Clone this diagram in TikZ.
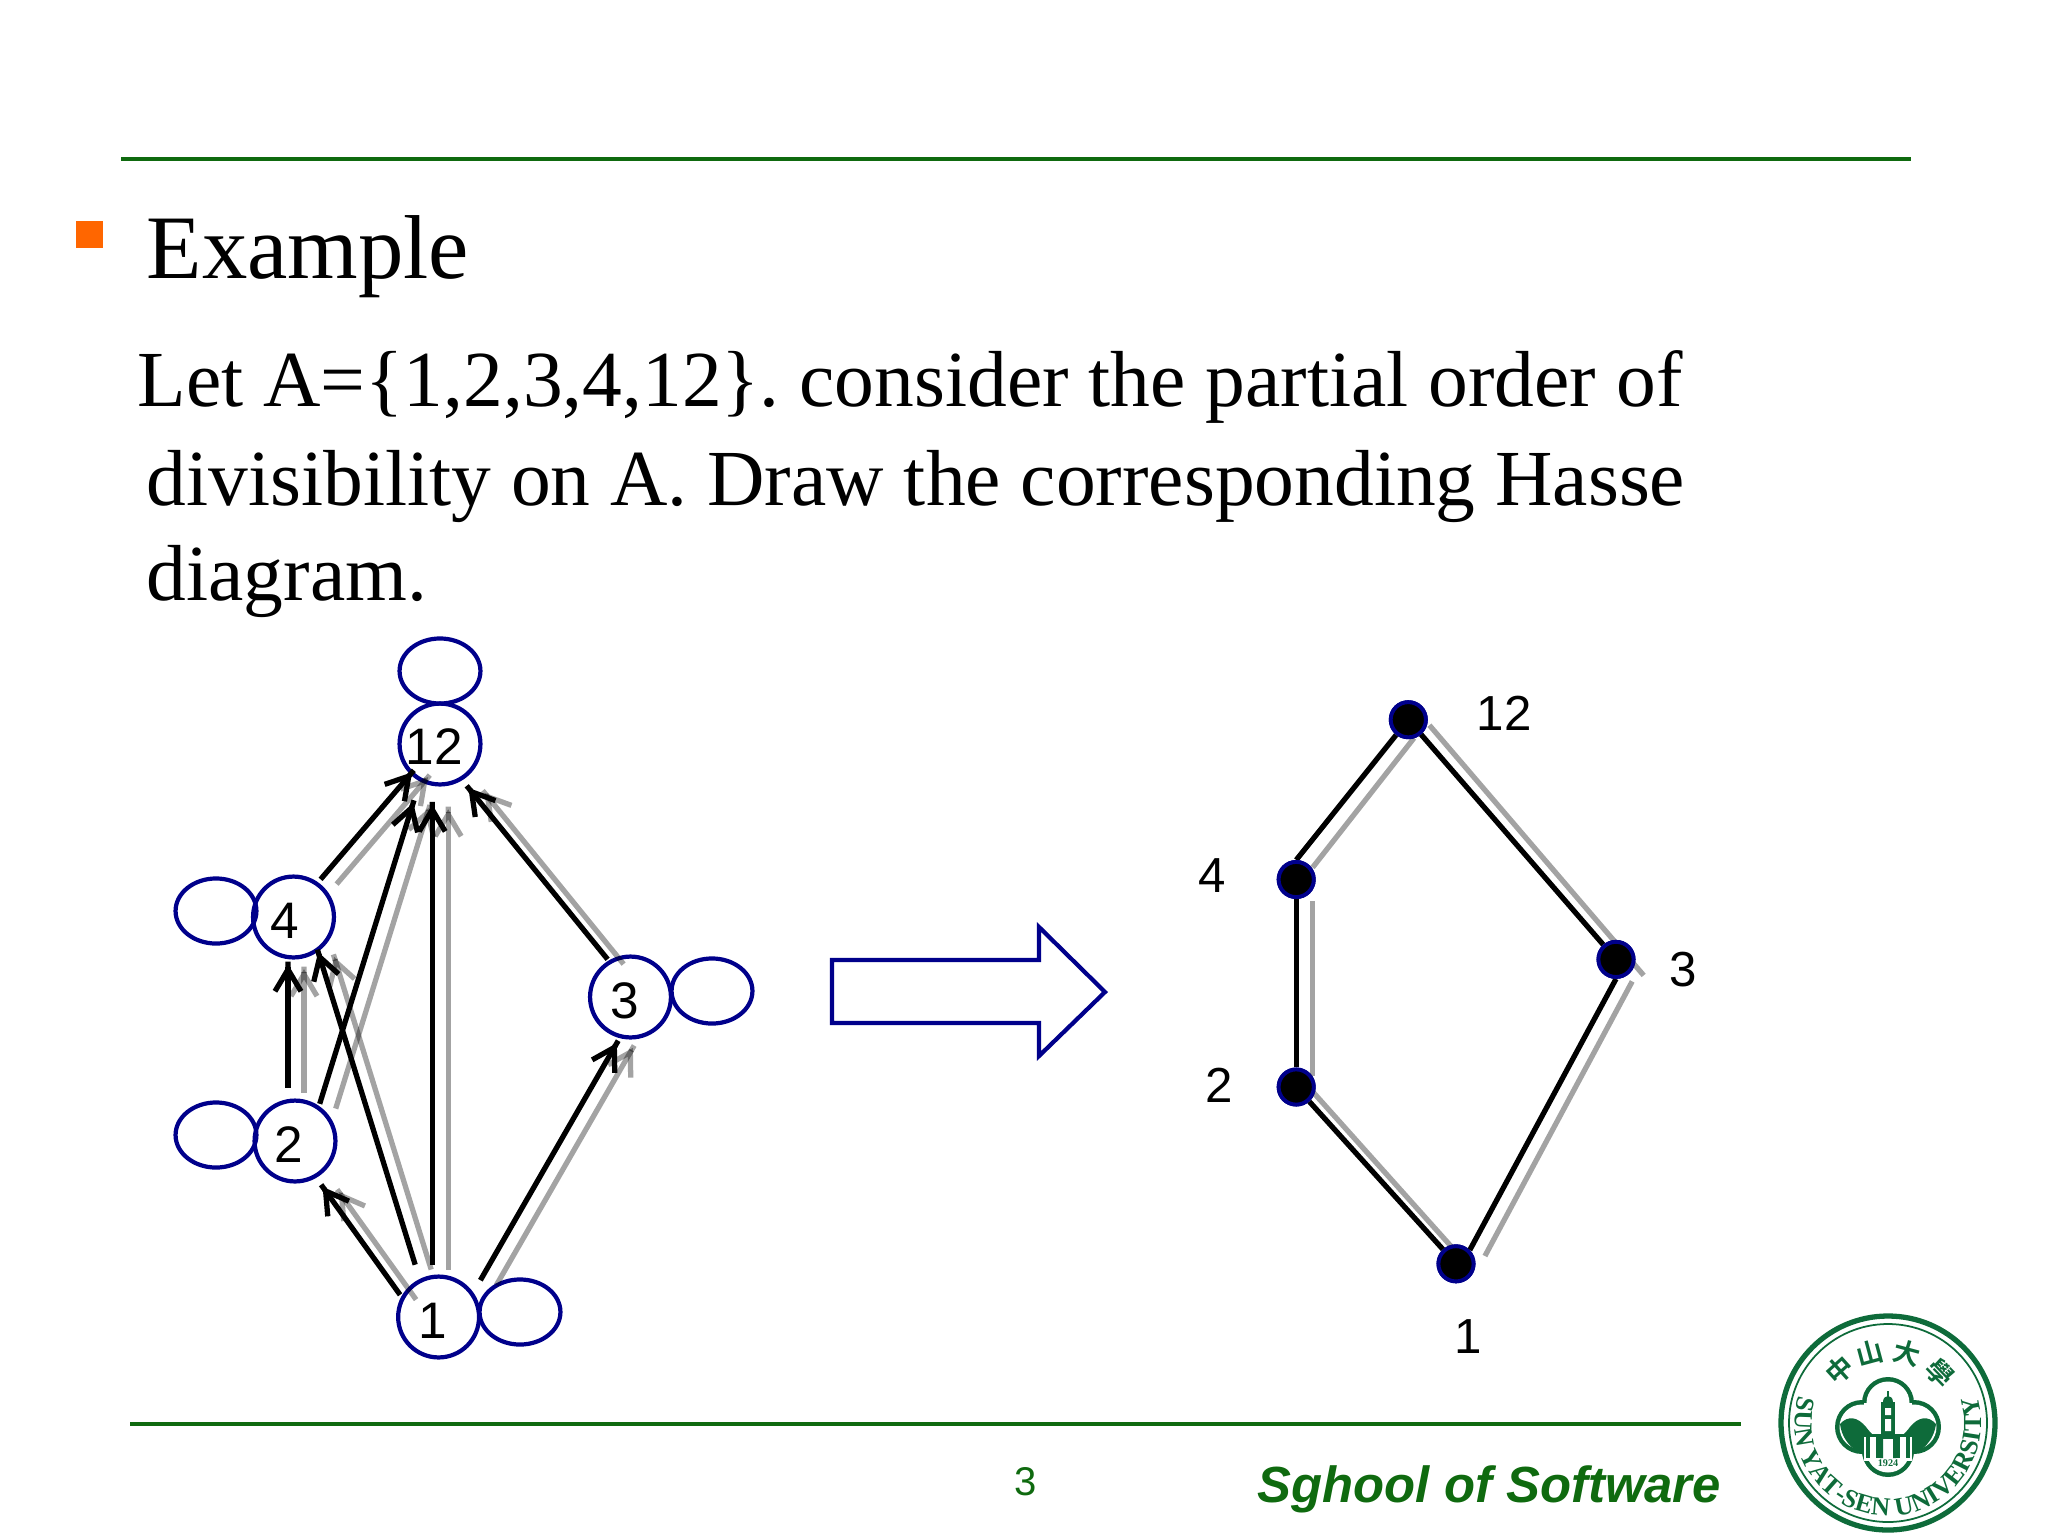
\documentclass[tikz,border=0pt]{standalone}
\usepackage{fontspec}
\setmainfont{Liberation Serif}
\setsansfont{Liberation Sans}
\newfontfamily\cjkseal{Noto Sans CJK SC}[BoldFont={* Bold}]
\usetikzlibrary{arrows.meta, decorations.text, shapes.geometric}
\definecolor{rulegreen}{HTML}{0F6A0F}
\definecolor{sealgreen}{HTML}{0E6B3A}
\definecolor{navyline}{HTML}{00008B}
\definecolor{bulletorange}{HTML}{FF6600}
\tikzset{
    titletext/.style={anchor=base west, inner sep=0pt, font=\fontsize{25.8pt}{30pt}\selectfont},
    slidetext/.style={anchor=base west, inner sep=0pt, font=\fontsize{22.6pt}{27pt}\selectfont\frenchspacing},
    numtext/.style={inner sep=0pt, font=\sffamily\fontsize{14.6pt}{17pt}\selectfont},
    hassetext/.style={inner sep=0pt, font=\sffamily\fontsize{14pt}{16pt}\selectfont},
    hassecircle/.style={draw=navyline, line width=1.2pt, circle, minimum size=23pt, inner sep=0pt},
    loopcircle/.style={draw=navyline, line width=1.2pt, ellipse, minimum width=23pt, minimum height=18.5pt, inner sep=0pt},
    vtip/.style={-{Straight Barb[length=6.2pt,width=7.4pt]Butt Cap}},
    blackarc/.style={vtip, black, line width=1.5pt},
    grayarc/.style={vtip, black, opacity=0.36, line width=1.5pt},
    blackedge/.style={black, line width=1.5pt},
    grayedge/.style={black, opacity=0.36, line width=1.5pt},
    hassedot/.style={circle, fill=black, draw=navyline, line width=1.1pt, minimum size=10pt, inner sep=0pt},
}
\begin{document}
\begin{tikzpicture}[x=0.01cm, y=-0.01cm]
    \useasboundingbox (0,0) rectangle (2048,1536);

    % --- Slide frame ---
    \draw[rulegreen, line width=1.2pt] (121,159) -- (1911,159);
    \draw[rulegreen, line width=1.2pt] (130,1424) -- (1741,1424);
    \fill[bulletorange] (76,221) rectangle (103,248);

    % --- Text ---
    \node[titletext] (title) at (146,278) {Example};
    \node[slidetext] (lineA) at (137,406) {Let A=\{1,2,3,4,12\}. consider the partial order of};
    \node[slidetext] (lineB) at (146,505) {divisibility on A. Draw the corresponding Hasse};
    \node[slidetext] (lineC) at (146,600) {diagram.};

    % --- Digraph: vertices with their loops ---
    \node[hassecircle] (n12) at (440,744) {};
    \node[hassecircle] (n4) at (293.5,917) {};
    \node[hassecircle] (n2) at (295,1141) {};
    \node[hassecircle] (n3) at (630.5,997) {};
    \node[hassecircle] (n1) at (438.6,1317) {};
    \node[loopcircle] (loop12) at (440,671) {};
    \node[loopcircle] (loop4) at (216,911) {};
    \node[loopcircle] (loop2) at (216,1135) {};
    \node[loopcircle] (loop3) at (712,991) {};
    \node[loopcircle] (loop1) at (520,1312) {};

    \node[numtext] (t12) at (434.5,747) {12};
    \node[numtext] (t4) at (285,921) {4};
    \node[numtext] (t2) at (289,1145) {2};
    \node[numtext] (t3) at (625,1001) {3};
    \node[numtext] (t1) at (433,1321) {1};

    % Free ends of the arcs
    \coordinate (a12s) at (400.1,1294.8);  \coordinate (a12e) at (321.1,1184.7);
    \coordinate (a14s) at (415.2,1264.7);  \coordinate (a14e) at (317.4,949.6);
    \coordinate (a1Ts) at (432.2,1264.7);  \coordinate (a1Te) at (432.2,801.8);
    \coordinate (a13s) at (480.4,1280.2);  \coordinate (a13e) at (618.2,1040.7);
    \coordinate (a24s) at (288,1087.8);    \coordinate (a24e) at (288,961.7);
    \coordinate (a2Ts) at (319.7,1103.8);  \coordinate (a2Te) at (414,800.3);
    \coordinate (a4Ts) at (320.6,879.3);   \coordinate (a4Te) at (413.8,770.3);
    \coordinate (a3Ts) at (607.6,959.3);   \coordinate (a3Te) at (466.7,785.8);

    % Shadows first, the black arcs lie on top of them
    \foreach \arc in {a12,a14,a1T,a13,a24,a2T,a4T,a3T}
        \draw[grayarc] ([shift={(16,4.8)}]\arc s) -- ([shift={(16,4.8)}]\arc e);
    \foreach \arc in {a12,a14,a1T,a13,a24,a2T,a4T,a3T}
        \draw[blackarc] (\arc s) -- (\arc e);

    % --- Block arrow ---
    \draw[navyline, line width=1.2pt, line join=miter] (832,960) -- (1039,960) -- (1039,927) -- (1105,992) -- (1039,1056) -- (1039,1023) -- (832,1023) -- cycle;

    % --- Hasse diagram ---
    \node[hassedot] (d12) at (1408.3,719.7) {};
    \node[hassedot] (d4) at (1296.2,879.5) {};
    \node[hassedot] (d2) at (1296.2,1087) {};
    \node[hassedot] (d1) at (1456,1263.8) {};
    \node[hassedot] (d3) at (1616,959.4) {};

    \coordinate (g1a) at (1414,738);       \coordinate (g1b) at (1312.6,867.5);
    \coordinate (g2a) at (1429.4,725.2);   \coordinate (g2b) at (1643.7,975.4);
    \coordinate (g3a) at (1312.3,901);     \coordinate (g3b) at (1312.3,1075.5);
    \coordinate (g4a) at (1312.6,1091.6);  \coordinate (g4b) at (1452.3,1247.7);
    \coordinate (g5a) at (1484.9,1256);    \coordinate (g5b) at (1632.2,981.4);
    \foreach \edge in {g1,g2,g3,g4,g5}
        \draw[grayedge] (\edge a) -- (\edge b);

    \draw[blackedge] (d12) -- (d4.north);
    \draw[blackedge] (d4) -- (d2);
    \draw[blackedge] (d2) -- (d1);
    \draw[blackedge] (d1.45) -- (d3.south);
    \draw[blackedge] (d3) -- (d12);
    \foreach \dot in {d12,d4,d2,d1,d3}
        \node[hassedot] at (\dot) {};

    \node[hassetext] (h12) at (1504,713) {12};
    \node[hassetext] (h4) at (1212,876) {4};
    \node[hassetext] (h2) at (1219,1085) {2};
    \node[hassetext] (h3) at (1683,970) {3};
    \node[hassetext] (h1) at (1468,1337) {1};

    % --- Footer ---
    \node[inner sep=0pt, text=rulegreen, font=\sffamily\fontsize{11.4pt}{13pt}\selectfont] (pagenum) at (1026,1482) {3};
    \node[anchor=base east, inner sep=0pt, text=rulegreen, font=\sffamily\bfseries\itshape\fontsize{14.45pt}{17pt}\selectfont] (school) at (1721.5,1502) {Sghool of Software};

    % --- Seal ---
    \draw[sealgreen, line width=1.5pt] (1888,1423) circle (107);
    \draw[sealgreen, line width=0.5pt] (1888,1423) circle (99);
    \path[decorate, decoration={text along path, text align={fit to path},
        text={|\bfseries\fontsize{7.4pt}{9pt}\selectfont\color{sealgreen}|SUN YAT-SEN UNIVERSITY}}]
        (1888,1423) ++(197:93) arc[start angle=197, end angle=-17, radius=93];
    \foreach \ang/\ch in {132/中,105/山,75/大,44/學}
        \node[inner sep=0pt, text=sealgreen, rotate=\ang-90, font=\cjkseal\bfseries\fontsize{7.6pt}{9pt}\selectfont] at ([shift={(-\ang:72)}]1888,1423) {\ch};

    \begin{scope}[shift={(1888,1427)}]
        % quatrefoil frame
        \fill[sealgreen] (0,-24) circle (26) (0,24) circle (26) (-26,0) circle (27) (26,0) circle (27);
        \fill[white] (0,-24) circle (21.5) (0,24) circle (21.5) (-26,0) circle (22.5) (26,0) circle (22.5);
        \fill[white] (-24,-24) rectangle (24,24);
        % hills
        \fill[sealgreen] (-48,-3) .. controls (-40,-12) and (-30,-10) .. (-22,0) .. controls (-16,8) and (-12,10) .. (-10,12) -- (-10,32) .. controls (-25,30) and (-45,20) .. cycle;
        \fill[sealgreen] (48,-3) .. controls (40,-12) and (30,-10) .. (22,0) .. controls (16,8) and (12,10) .. (10,12) -- (10,32) .. controls (25,30) and (45,20) .. cycle;
        % gate under the tower
        \fill[white] (-24,9) rectangle (24,34);
        \fill[sealgreen] (-24,7) rectangle (24,10);
        \foreach \xa in {-22,-12,8,18}
            \fill[sealgreen] (\xa,10) rectangle (\xa+4,31);
        \fill[sealgreen] (-8,10) rectangle (-5,31) (5,10) rectangle (8,31);
        % tower
        \fill[sealgreen] (-7,-25) rectangle (7,12);
        \fill[sealgreen] (-5,-25) .. controls (-5,-33) and (5,-33) .. (5,-25);
        \fill[sealgreen] (-1,-36) rectangle (1,-28);
        \fill[white] (-3,-19) rectangle (3,-12) (-3,-8) rectangle (3,4);
        % year plate
        \node[inner sep=0pt, text=sealgreen, font=\bfseries\fontsize{2.9pt}{3pt}\selectfont] (year) at (0,36) {1924};
    \end{scope}
\end{tikzpicture}
\end{document}
